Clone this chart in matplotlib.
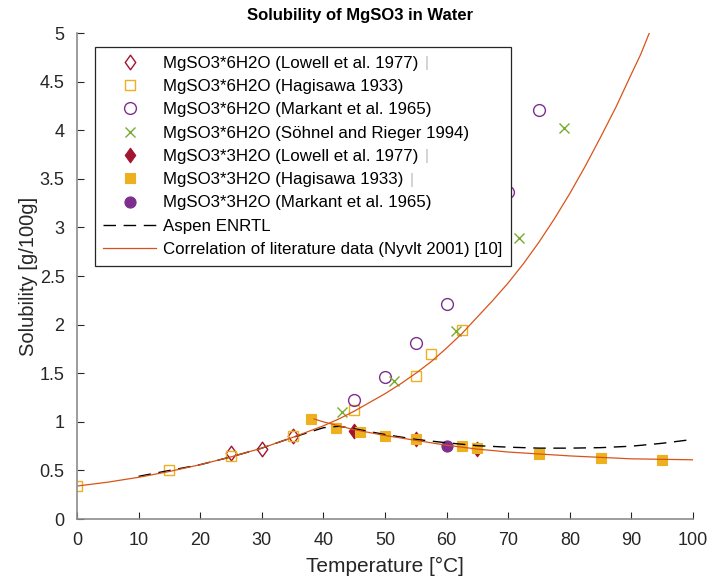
import matplotlib
matplotlib.use("Agg")
import matplotlib.pyplot as plt
from matplotlib.ticker import FormatStrFormatter, MultipleLocator
from matplotlib.path import Path

plt.rcParams['font.family'] = ['Liberation Sans', 'DejaVu Sans']

# ---------------- data ----------------
# MgSO3*6H2O
hex_lowell_T = [25, 30, 35]
hex_lowell_S = [0.68, 0.72, 0.86]
hex_hagi_T = [0, 15, 25, 35, 45, 55, 57.5, 62.5]
hex_hagi_S = [0.34, 0.50, 0.65, 0.85, 1.12, 1.47, 1.70, 1.95]
hex_mark_T = [45, 50, 55, 60, 70, 75]
hex_mark_S = [1.23, 1.46, 1.81, 2.21, 3.37, 4.21]
hex_sohn_T = [43, 51.5, 61.5, 71.7, 79]
hex_sohn_S = [1.10, 1.42, 1.93, 2.89, 4.02]
# MgSO3*3H2O
tri_lowell_T = [45, 55, 65]
tri_lowell_S = [0.91, 0.82, 0.72]
tri_hagi_T = [38, 42, 46, 50, 55, 62.5, 65, 75, 85, 95]
tri_hagi_S = [1.03, 0.94, 0.90, 0.85, 0.82, 0.75, 0.73, 0.67, 0.63, 0.61]
tri_mark_T = [60]
tri_mark_S = [0.75]
# Aspen ENRTL model
aspen_T = [10, 15, 20, 25, 30, 35, 40, 42.5, 45, 50, 55, 60, 65, 70, 75, 80, 85, 90, 95, 100]
aspen_S = [0.44, 0.50, 0.56, 0.64, 0.73, 0.84, 0.94, 0.955, 0.93, 0.87, 0.82, 0.785,
           0.755, 0.74, 0.73, 0.73, 0.735, 0.75, 0.78, 0.82]
# Correlation (Nyvlt 2001): hexahydrate branch and trihydrate branch
corr6_T = [0, 5, 10, 15, 20, 25, 30, 35, 40, 42.5, 45, 47.5, 50, 52.5, 55, 57.5, 60,
           62.5, 65, 67.5, 70, 72.5, 75, 77.5, 80, 82.5, 85, 87.5, 90, 91.5, 92.9]
corr6_S = [0.34, 0.38, 0.43, 0.49, 0.56, 0.64, 0.73, 0.84, 0.96, 1.03, 1.11, 1.20, 1.29,
           1.39, 1.50, 1.62, 1.76, 1.91, 2.08, 2.25, 2.43, 2.63, 2.85, 3.09, 3.35,
           3.63, 3.93, 4.24, 4.58, 4.78, 5.0]
corr3_T = [38.5, 40, 45, 50, 55, 60, 65, 70, 75, 80, 85, 90, 95, 100]
corr3_S = [1.03, 1.00, 0.92, 0.86, 0.81, 0.76, 0.72, 0.69, 0.67, 0.65, 0.635, 0.62, 0.615, 0.61]

labels = ["MgSO3*6H2O (Lowell et al. 1977)",
          "MgSO3*6H2O (Hagisawa 1933)",
          "MgSO3*6H2O (Markant et al. 1965)",
          "MgSO3*6H2O (Söhnel and Rieger 1994)",
          "MgSO3*3H2O (Lowell et al. 1977)",
          "MgSO3*3H2O (Hagisawa 1933)",
          "MgSO3*3H2O (Markant et al. 1965)",
          "Aspen ENRTL",
          "Correlation of literature data (Nyvlt 2001) [10]"]

RED = '#A2142F'
YEL = '#EDB120'
PUR = '#7E2F8E'
GRN = '#77AC30'
ORA = '#D95319'
TXT = '#262626'

diamond = Path([(0, 1), (0.72, 0), (0, -1), (-0.72, 0), (0, 1)],
               [Path.MOVETO, Path.LINETO, Path.LINETO, Path.LINETO, Path.CLOSEPOLY])

fig = plt.figure(figsize=(7.13, 5.80), dpi=100)
ax = fig.add_axes([0.108, 0.105, 0.864, 0.838])

h = []
h += ax.plot(hex_lowell_T, hex_lowell_S, ls='none', marker=diamond, ms=10.5,
             mfc='none', mec=RED, mew=1.0, label=labels[0])
h += ax.plot(hex_hagi_T, hex_hagi_S, ls='none', marker='s', ms=7,
             mfc='none', mec=YEL, mew=1.0, label=labels[1])
h += ax.plot(hex_mark_T, hex_mark_S, ls='none', marker='o', ms=8.5,
             mfc='none', mec=PUR, mew=1.0, label=labels[2])
h += ax.plot(hex_sohn_T, hex_sohn_S, ls='none', marker='x', ms=6.5,
             mec=GRN, mew=1.0, label=labels[3])
h += ax.plot(tri_lowell_T, tri_lowell_S, ls='none', marker=diamond, ms=10.5,
             mfc=RED, mec=RED, mew=0.8, label=labels[4])
h += ax.plot(tri_hagi_T, tri_hagi_S, ls='none', marker='s', ms=6.5,
             mfc=YEL, mec=YEL, mew=0.8, label=labels[5])
h += ax.plot(tri_mark_T, tri_mark_S, ls='none', marker='o', ms=8,
             mfc=PUR, mec=PUR, mew=0.8, label=labels[6])
h += ax.plot(aspen_T, aspen_S, color='black', lw=1.0, ls=(0, (9, 5.5)), label=labels[7])
h += ax.plot(corr6_T, corr6_S, color=ORA, lw=0.9, label=labels[8])
ax.plot(corr3_T, corr3_S, color=ORA, lw=0.9)

ax.set_xlim(0, 100)
ax.set_ylim(0, 5)
ax.xaxis.set_major_locator(MultipleLocator(10))
ax.yaxis.set_major_locator(MultipleLocator(0.5))
ax.yaxis.set_major_formatter(FormatStrFormatter('%g'))
ax.xaxis.set_major_formatter(FormatStrFormatter('%g'))

for s in ['top', 'right']:
    ax.spines[s].set_visible(False)
for s in ['left', 'bottom']:
    ax.spines[s].set_color('#8c8c8c')
    ax.spines[s].set_linewidth(1.2)
ax.tick_params(direction='in', length=5, width=0.8, color=TXT, labelcolor=TXT,
               labelsize=13)
ax.tick_params(axis='x', pad=9)
ax.tick_params(axis='y', pad=9)

ax.set_xlabel('Temperature [°C]', fontsize=15, color=TXT, labelpad=6)
ax.set_ylabel('Solubility [g/100g]', fontsize=14.5, color=TXT, labelpad=1)
fig.text(0.505, 0.974, 'Solubility of MgSO3 in Water', fontsize=12, fontweight='bold',
         color='black', ha='center', va='center')

leg = ax.legend(handles=h, loc='upper left', bbox_to_anchor=(0.029, 0.971),
                borderaxespad=0, fontsize=12.2, frameon=True, fancybox=False,
                framealpha=1, edgecolor='#262626', handlelength=3.12,
                handletextpad=0.4, labelspacing=0.49, borderpad=0.5, numpoints=1)
leg.get_frame().set_linewidth(0.9)
for t in leg.get_texts():
    t.set_color('black')

# faint vertical bars after some legend entries
fig.canvas.draw()
r = fig.canvas.get_renderer()
texts = leg.get_texts()
for i in [0, 4, 5]:
    bb = texts[i].get_window_extent(r)
    xf, yf = fig.transFigure.inverted().transform((bb.x1 + 6, (bb.y0 + bb.y1) / 2))
    fig.text(xf, yf, '|', fontsize=11, color='#bdbdbd', ha='left', va='center')

fig.savefig('out.png', dpi=100)
